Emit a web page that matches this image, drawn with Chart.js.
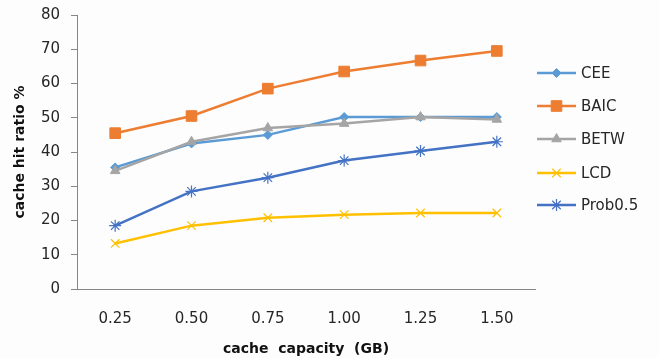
<!DOCTYPE html>
<html>
<head>
<meta charset="utf-8">
<script src="https://cdn.jsdelivr.net/npm/chart.js@4/dist/chart.umd.min.js"></script>
<style>
  html, body { margin: 0; padding: 0; background: #fdfdfd; }
  #wrap { width: 659px; height: 358px; position: relative; }
</style>
</head>
<body>
<div id="wrap"><canvas id="c" width="659" height="358"></canvas></div>
<script>
// Cache capacity (GB) on the x axis, hit ratio (%) per policy
const capacities = ['0.25', '0.50', '0.75', '1.00', '1.25', '1.50'];
const cee     = [35.5, 42.5, 45.0, 50.2, 50.2, 50.2];
const baic    = [45.5, 50.5, 58.5, 63.5, 66.7, 69.5];
const betw    = [34.5, 43.0, 47.0, 48.3, 50.2, 49.5];
const lcd     = [13.3, 18.5, 20.8, 21.7, 22.2, 22.2];
const prob05  = [18.5, 28.5, 32.5, 37.5, 40.3, 43.0];
const yTicks  = [0, 10, 20, 30, 40, 50, 60, 70, 80];

const FONT = '"DejaVu Sans", Verdana, sans-serif';
const TEXT = '#262626';

function series(label, data, color, style, radius, order) {
  const cross = style === 'crossRot' || style === 'star';
  return {
    label, data, order,
    borderColor: color,
    backgroundColor: color,
    borderWidth: 2.5,
    pointStyle: style,
    pointRadius: radius,
    pointHoverRadius: radius,
    pointBackgroundColor: color,
    pointBorderColor: color,
    pointBorderWidth: cross ? 1.2 : 1,
    tension: 0,
    fill: false
  };
}

const datasets = [
  series('CEE', cee, '#5b9bd5', 'rectRot', 4.5, 5),
  series('BAIC', baic, '#ed7d31', 'rect', 7.5, 4),
  series('BETW', betw, '#a5a5a5', 'triangle', 5.5, 3),
  series('LCD', lcd, '#ffc000', 'crossRot', 6, 2),
  series('Prob0.5', prob05, '#4472c4', 'star', 6, 1)
];

// Legend on the right: line sample with marker, then the series name
const sideLegend = {
  id: 'sideLegend',
  afterDraw(chart) {
    const ctx = chart.ctx;
    const x0 = 537, x1 = 576, tx = 581;
    const rows = [73, 106, 139, 173, 205];
    chart.data.datasets.forEach((ds, i) => {
      const y = rows[i];
      ctx.save();
      ctx.strokeStyle = ds.borderColor;
      ctx.lineWidth = ds.borderWidth;
      ctx.beginPath();
      ctx.moveTo(x0, y);
      ctx.lineTo(x1, y);
      ctx.stroke();
      ctx.fillStyle = ds.pointBackgroundColor;
      ctx.strokeStyle = ds.pointBorderColor;
      ctx.lineWidth = ds.pointBorderWidth;
      Chart.helpers.drawPoint(ctx, {
        pointStyle: ds.pointStyle,
        radius: ds.pointRadius,
        rotation: 0,
        borderWidth: ds.pointBorderWidth
      }, (x0 + x1) / 2, y);
      ctx.fillStyle = TEXT;
      ctx.font = '15px ' + FONT;
      ctx.textBaseline = 'middle';
      ctx.textAlign = 'left';
      ctx.fillText(ds.label, tx, y + 1);
      ctx.restore();
    });
  }
};

new Chart(document.getElementById('c'), {
  type: 'line',
  data: { labels: capacities, datasets },
  options: {
    responsive: false,
    animation: false,
    events: [],
    layout: { padding: { left: 0, top: 15, right: 124, bottom: 0 } },
    plugins: { legend: { display: false }, tooltip: { enabled: false } },
    scales: {
      x: {
        offset: true,
        grid: { display: false, drawTicks: false },
        border: { display: true, color: '#868686', width: 1 },
        ticks: { color: TEXT, font: { family: FONT, size: 15 }, padding: 21, maxRotation: 0 },
        title: {
          display: true, text: 'cache  capacity  (GB)', color: '#111',
          font: { family: FONT, size: 14, weight: 'bold' }, padding: { top: 0, bottom: 0 }
        },
        afterFit(scale) { scale.height = 69; scale.paddingLeft = 0; scale.paddingRight = 0; }
      },
      y: {
        min: 0, max: 80,
        afterBuildTicks(scale) { scale.ticks = yTicks.map(v => ({ value: v })); },
        grid: { drawOnChartArea: false, drawTicks: true, tickLength: 6, color: '#868686' },
        border: { display: true, color: '#868686', width: 1 },
        ticks: { color: TEXT, font: { family: FONT, size: 15 }, padding: 11 },
        title: {
          display: true, text: 'cache hit ratio %', color: '#111',
          font: { family: FONT, size: 14, weight: 'bold' }, padding: { top: 12, bottom: 0 }
        },
        afterFit(scale) { scale.width = 77; scale.paddingTop = 0; scale.paddingBottom = 0; }
      }
    }
  },
  plugins: [sideLegend]
});
</script>
</body>
</html>
